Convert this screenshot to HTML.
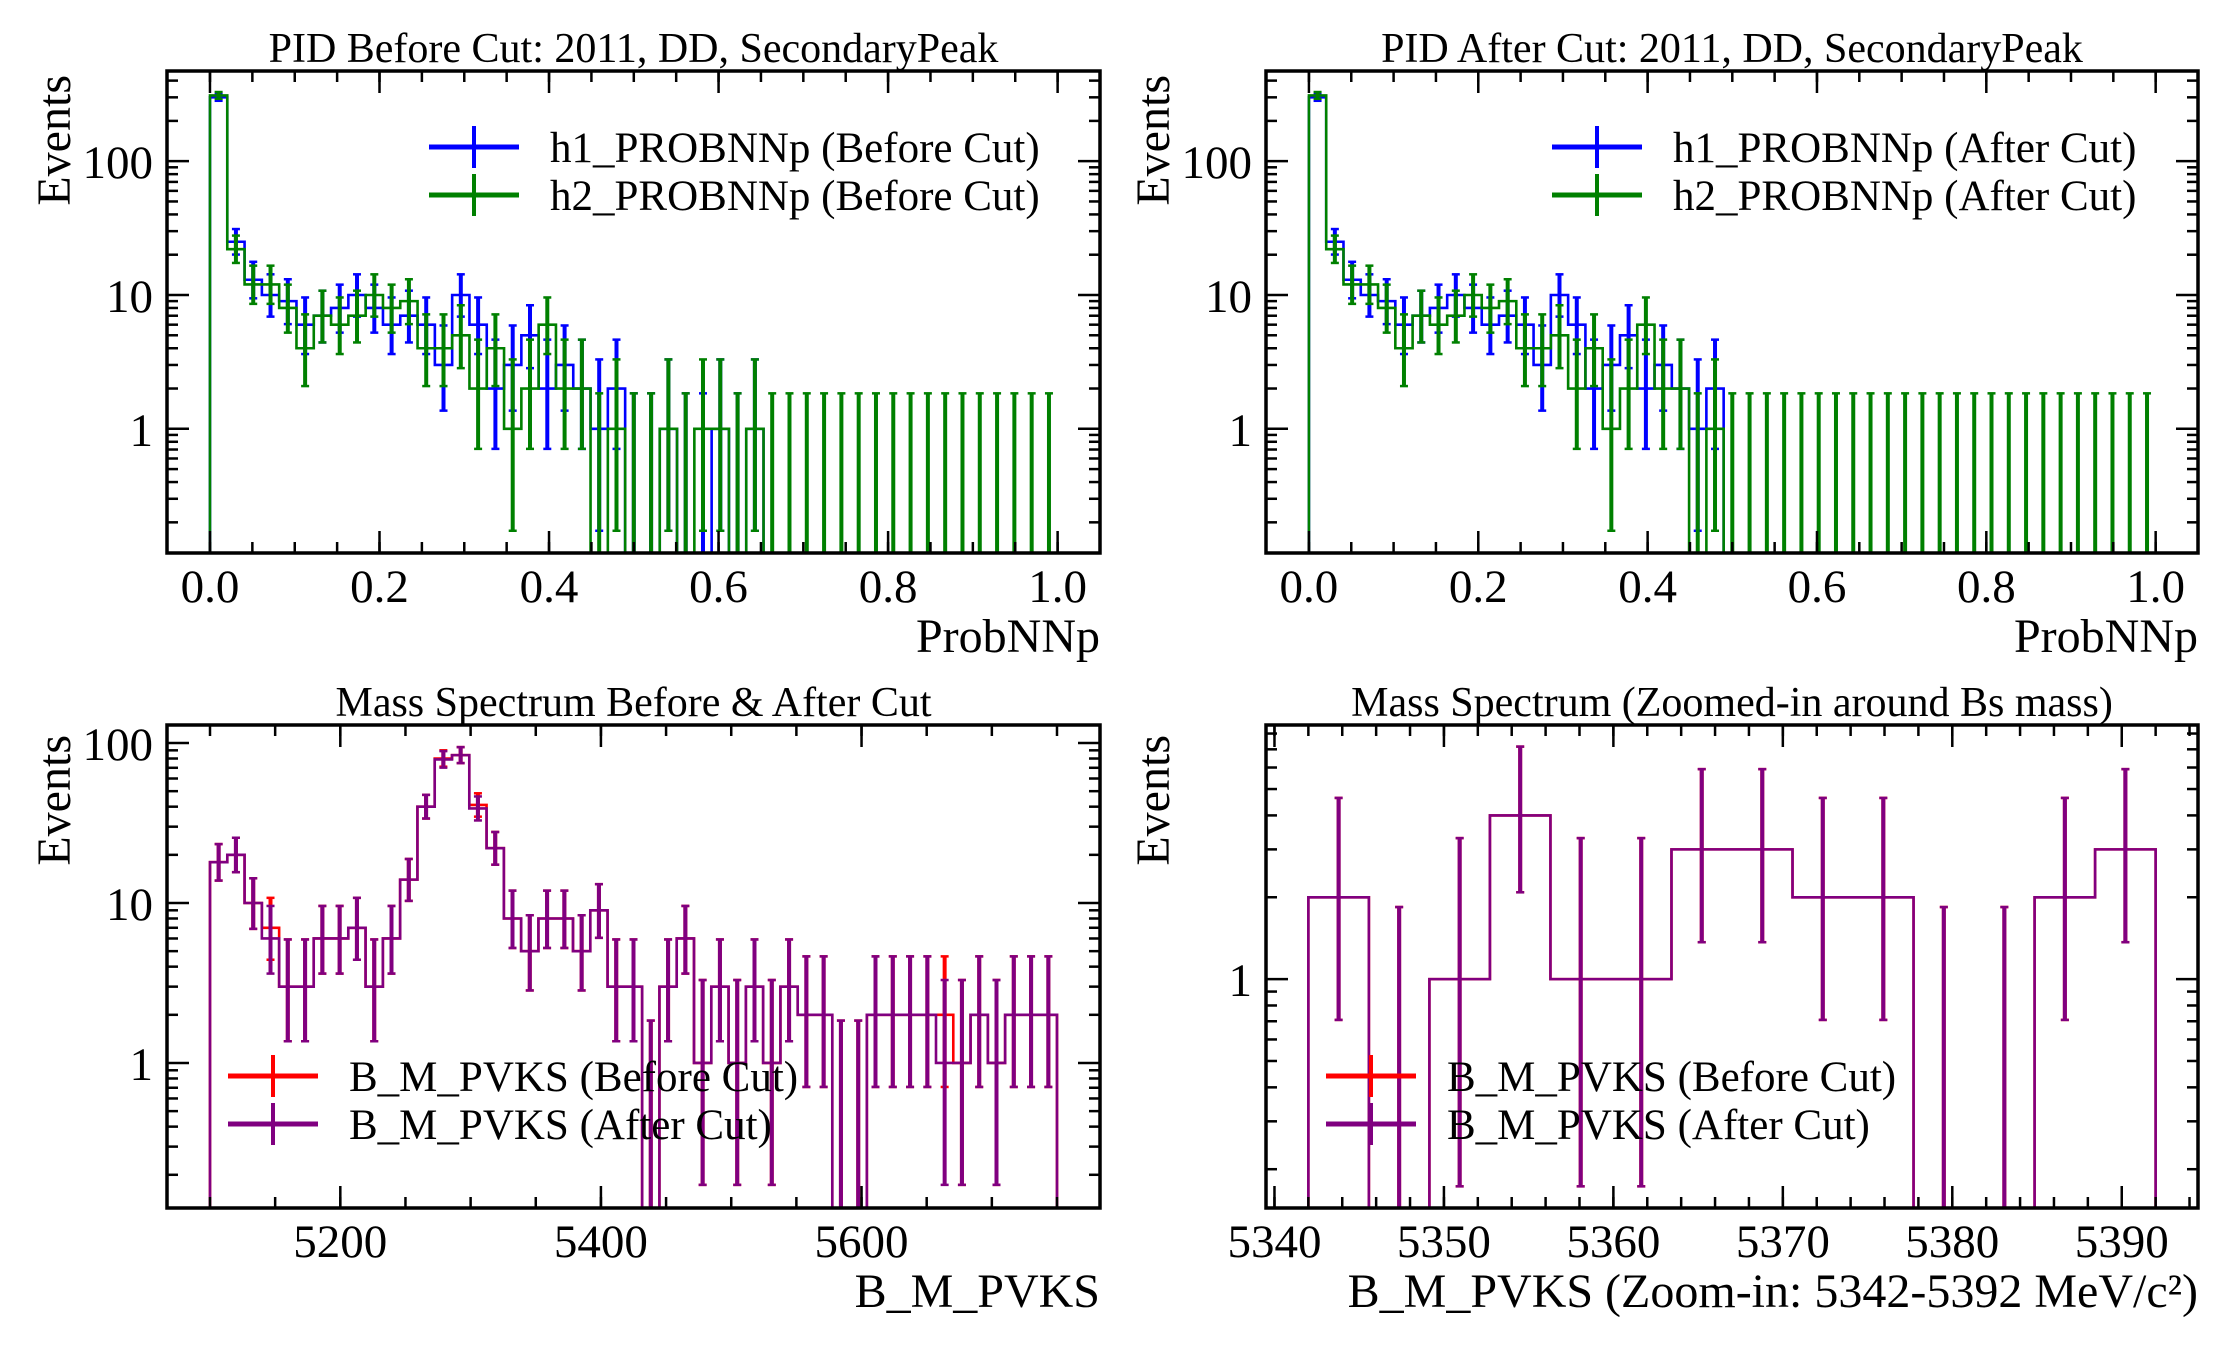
<!DOCTYPE html>
<html><head><meta charset="utf-8"><style>
html,body{margin:0;padding:0;background:#fff;}
svg{display:block;font-family:"Liberation Serif",serif;}
</style></head>
<body>
<svg id="fig" width="2231" height="1350" viewBox="0 0 2231 1350" xmlns="http://www.w3.org/2000/svg"></svg>
<script>
// ---- data ----
const probBins = 49;
const probRange = [0, 1];
const h1Before = [300,25,13,10,9,6,7,8,10,8,6,7,6,3,10,6,2,3,5,2,3,2,1,2,0,0,1,0,0,1,0,1,0,0,0,0,0,0,0,0,0,0,0,0,0,0,0,0,0];
const h2Before = [310,22,12,12,8,4,7,6,7,10,8,9,4,4,5,2,4,1,2,6,2,2,0,1,0,0,1,0,1,1,0,1,0,0,0,0,0,0,0,0,0,0,0,0,0,0,0,0,0];
const h1After  = [300,25,13,10,9,6,7,8,10,8,6,7,6,3,10,6,2,3,5,2,3,2,1,2,0,0,0,0,0,0,0,0,0,0,0,0,0,0,0,0,0,0,0,0,0,0,0,0,0];
const h2After  = [310,22,12,12,8,4,7,6,7,10,8,9,4,4,5,2,4,1,2,6,2,2,0,1,0,0,0,0,0,0,0,0,0,0,0,0,0,0,0,0,0,0,0,0,0,0,0,0,0];
const massRange = [5100, 5750];
const massBins = 49;
const massBefore = [18,20,10,7,3,3,6,6,7,3,6,14,40,80,84,41,22,8,5,8,8,5,9,3,3,0,3,6,1,3,1,3,1,3,2,2,0,0,2,2,2,2,2,1,2,1,2,2,2];
const massAfter  = [18,20,10,6,3,3,6,6,7,3,6,14,40,79,84,39,22,8,5,8,8,5,9,3,3,0,3,6,1,3,1,3,1,3,2,2,0,0,2,2,2,2,1,1,2,1,2,2,2];
const zoomRange = [5342, 5392];
const zoomBins = 14;
const zoomBefore = [2,0,1,4,1,1,3,3,2,2,0,0,2,3];
const zoomAfter  = [2,0,1,4,1,1,3,3,2,2,0,0,2,3];
const probTicks = [0, 0.2, 0.4, 0.6, 0.8, 1.0];
const probTickLabels = ["0.0","0.2","0.4","0.6","0.8","1.0"];
const massTicks = [5200, 5400, 5600];
const massTickLabels = ["5200","5400","5600"];
const zoomTicks = [5340, 5350, 5360, 5370, 5380, 5390];
const zoomTickLabels = ["5340","5350","5360","5370","5380","5390"];

const NS = "http://www.w3.org/2000/svg";
const svg = document.getElementById('fig');
function mk(tag, attrs, parent) {
  const e = document.createElementNS(NS, tag);
  for (const k in attrs) e.setAttribute(k, attrs[k]);
  (parent || svg).appendChild(e);
  return e;
}
const GW = [[0,1.841],[0.173,3.300],[0.708,4.638],[1.367,5.918],[2.086,7.163],[2.840,8.382],[3.620,9.584],[4.419,10.77],[5.232,11.95],[6.057,13.11],[6.891,14.27]];
function errs(n){ if(n<=10) return GW[n]; const s=Math.sqrt(n); return [n-s+0.05, n+s+1.1]; }

function panel(p) {
  const g = mk('g', {});
  
  
  const X = v => p.L + (v - p.x0) / (p.x1 - p.x0) * (p.R - p.L);
  const Y = v => p.B - (Math.log10(v) - Math.log10(p.y0)) / (Math.log10(p.y1) - Math.log10(p.y0)) * (p.B - p.T);
  const cid = 'clip-' + p.name;
  const cp = mk('clipPath', {id: cid}, g);
  mk('rect', {x: p.L, y: p.T, width: p.R - p.L, height: p.B - p.T}, cp);
  const plot = mk('g', {'clip-path': 'url(#' + cid + ')'}, g);
  const edges = [];
  for (let i = 0; i <= p.nb; i++) edges.push(p.r0 + (p.r1 - p.r0) * i / p.nb);
  p.series.forEach(s => {
    const yv = v => v > 0 ? Y(v) : p.B + 40;
    let d = 'M' + X(edges[0]) + ',' + (p.B + 40);
    s.vals.forEach((v, i) => { d += ' L' + X(edges[i]) + ',' + yv(v) + ' L' + X(edges[i + 1]) + ',' + yv(v); });
    d += ' L' + X(edges[p.nb]) + ',' + (p.B + 40);
    const path = mk('path', {d: d, fill: 'none', stroke: s.color, 'stroke-width': 2.6}, plot);
    
    
    let last = 0; s.vals.forEach((v, i) => { if (v > 0) last = i; });
    const maxI = s.zeroBarsAll ? p.nb - 1 : last;
    s.vals.forEach((v, i) => {
      if (i > maxI) return;
      const c = X((edges[i] + edges[i + 1]) / 2);
      const e = errs(v);
      const yl = e[0] > 0 ? Y(e[0]) : p.B + 40;
      const yh = Y(e[1]);
      const eb = mk('g', {stroke: s.color}, plot);
      
      
      mk('line', {x1: c, x2: c, y1: yl, y2: yh, 'stroke-width': 4}, eb);
      mk('line', {x1: c - 4, x2: c + 4, y1: yh, y2: yh, 'stroke-width': 2.5}, eb);
      mk('line', {x1: c - 4, x2: c + 4, y1: yl, y2: yl, 'stroke-width': 2.5}, eb);
    });
  });
  // ticks
  const tk = mk('g', {stroke: '#000'}, g);
  
  
  const xt = (v, len) => {
    const x = X(v); if (x < p.L || x > p.R) return;
    mk('line', {x1: x, x2: x, y1: p.B, y2: p.B - len, 'stroke-width': 2.5}, tk);
    mk('line', {x1: x, x2: x, y1: p.T, y2: p.T + len, 'stroke-width': 2.5}, tk);
  };
  for (let v = p.minor0; v <= p.x1; v += p.minorStep) xt(+v.toFixed(6), 11);
  p.ticks.forEach(v => xt(v, 22));
  for (let dec = -2; dec <= 3; dec++) {
    for (let m = 1; m <= 9; m++) {
      const v = m * Math.pow(10, dec);
      if (v < p.y0 || v > p.y1) continue;
      const y = Y(v), len = m === 1 ? 22 : 11;
      mk('line', {x1: p.L, x2: p.L + len, y1: y, y2: y, 'stroke-width': 2.5}, tk);
      mk('line', {x1: p.R, x2: p.R - len, y1: y, y2: y, 'stroke-width': 2.5}, tk);
    }
  }
  const frame = mk('rect', {x: p.L, y: p.T, width: p.R - p.L, height: p.B - p.T, fill: 'none', stroke: '#000', 'stroke-width': 3.5}, g);
  
  
  p.ticks.forEach((v, i) => {
    const t = mk('text', {x: X(v), y: p.B + 49, 'font-size': 47, 'text-anchor': 'middle'}, g);
    t.textContent = p.tickLabels[i];
    
    
  });
  for (let dec = -1; dec <= 3; dec++) {
    const v = Math.pow(10, dec);
    if (v < p.y0 || v > p.y1) continue;
    const t = mk('text', {x: p.L - 14, y: Y(v) + 17, 'font-size': 47, 'text-anchor': 'end'}, g);
    t.textContent = String(v);
    
    
  }
  const ti = mk('text', {x: (p.L + p.R) / 2, y: p.T - 9, 'font-size': 42, 'text-anchor': 'middle'}, g);
  ti.textContent = p.title;
  
  
  const xl = mk('text', {x: p.R, y: p.B + 99, 'font-size': 48, 'text-anchor': 'end'}, g);
  xl.textContent = p.xlabel;
  
  
  const yl = mk('text', {x: 0, y: 0, 'font-size': 48, 'text-anchor': 'end', transform: 'translate(' + (p.L - 97) + ',' + (p.T + p.ylOff) + ') rotate(-90)'}, g);
  yl.textContent = 'Events';
  
  
  // legend
  const lg = mk('g', {}, g);
  
  
  p.series.forEach((s, i) => {
    const y = p.legY + i * 48;
    const en = mk('g', {}, lg);
    
    
    mk('line', {x1: p.legX, x2: p.legX + 90, y1: y, y2: y, stroke: s.color, 'stroke-width': 5}, en);
    mk('line', {x1: p.legX + 45, x2: p.legX + 45, y1: y - 21, y2: y + 21, stroke: s.color, 'stroke-width': 4}, en);
    const t = mk('text', {x: p.legX + 121, y: y + 15, 'font-size': 43}, en);
    t.textContent = s.label;
  });
}

panel({name: 'pid-before-panel', L: 167, R: 1100, T: 71, B: 553, x0: -0.0507, x1: 1.05, y0: 0.118, y1: 472,
  r0: probRange[0], r1: probRange[1], nb: probBins, ticks: probTicks, tickLabels: probTickLabels, minor0: 0, minorStep: 0.05,
  title: 'PID Before Cut: 2011, DD, SecondaryPeak', xlabel: 'ProbNNp', ylOff: 4, legX: 429, legY: 147,
  series: [
    {key: 'h1-before', color: '#0000ff', vals: h1Before, label: 'h1_PROBNNp (Before Cut)', zeroBarsAll: false},
    {key: 'h2-before', color: '#008000', vals: h2Before, label: 'h2_PROBNNp (Before Cut)', zeroBarsAll: true}]});
panel({name: 'pid-after-panel', L: 1266, R: 2198, T: 71, B: 553, x0: -0.0507, x1: 1.05, y0: 0.118, y1: 472,
  r0: probRange[0], r1: probRange[1], nb: probBins, ticks: probTicks, tickLabels: probTickLabels, minor0: 0, minorStep: 0.05,
  title: 'PID After Cut: 2011, DD, SecondaryPeak', xlabel: 'ProbNNp', ylOff: 4, legX: 1552, legY: 147,
  series: [
    {key: 'h1-after', color: '#0000ff', vals: h1After, label: 'h1_PROBNNp (After Cut)', zeroBarsAll: false},
    {key: 'h2-after', color: '#008000', vals: h2After, label: 'h2_PROBNNp (After Cut)', zeroBarsAll: true}]});
panel({name: 'mass-spectrum-panel', L: 167, R: 1100, T: 725, B: 1208, x0: 5067, x1: 5783, y0: 0.124, y1: 129.6,
  r0: massRange[0], r1: massRange[1], nb: massBins, ticks: massTicks, tickLabels: massTickLabels, minor0: 5100, minorStep: 50,
  title: 'Mass Spectrum Before & After Cut', xlabel: 'B_M_PVKS', ylOff: 10, legX: 228, legY: 1076,
  series: [
    {key: 'mass-before', color: '#ff0000', vals: massBefore, label: 'B_M_PVKS (Before Cut)', zeroBarsAll: false},
    {key: 'mass-after', color: '#800080', vals: massAfter, label: 'B_M_PVKS (After Cut)', zeroBarsAll: false}]});
panel({name: 'mass-zoom-panel', L: 1266, R: 2198, T: 725, B: 1208, x0: 5339.5, x1: 5394.5, y0: 0.144, y1: 8.6,
  r0: zoomRange[0], r1: zoomRange[1], nb: zoomBins, ticks: zoomTicks, tickLabels: zoomTickLabels, minor0: 5340, minorStep: 2,
  title: 'Mass Spectrum (Zoomed-in around Bs mass)', xlabel: 'B_M_PVKS (Zoom-in: 5342-5392 MeV/c²)', ylOff: 10, legX: 1326, legY: 1076,
  series: [
    {key: 'zoom-before', color: '#ff0000', vals: zoomBefore, label: 'B_M_PVKS (Before Cut)', zeroBarsAll: false},
    {key: 'zoom-after', color: '#800080', vals: zoomAfter, label: 'B_M_PVKS (After Cut)', zeroBarsAll: false}]});
</script>
</body></html>
